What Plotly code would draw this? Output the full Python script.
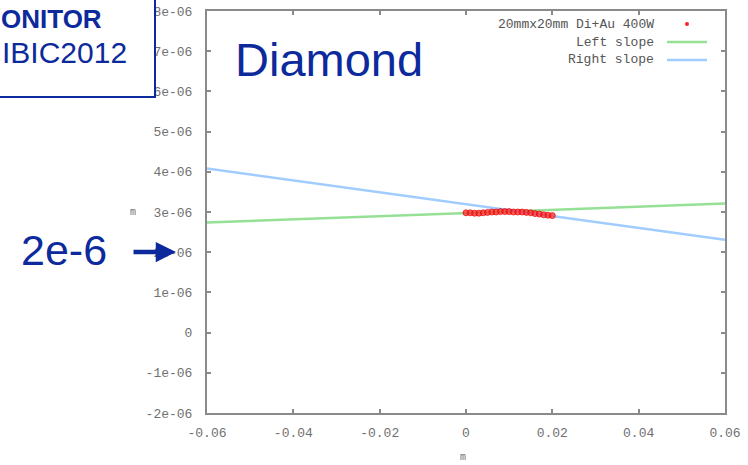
import plotly.graph_objects as go

# ---- data ----
data_x = [0.000, 0.001, 0.002, 0.003, 0.004, 0.005, 0.006, 0.007, 0.008, 0.009, 0.010,
          0.011, 0.012, 0.013, 0.014, 0.015, 0.016, 0.017, 0.018, 0.019, 0.020]
data_y = [2.98e-6, 2.98e-6, 2.97e-6, 2.97e-6, 2.98e-6, 2.99e-6, 3.00e-6, 3.00e-6, 3.01e-6, 3.01e-6, 3.01e-6,
          3.00e-6, 3.00e-6, 3.00e-6, 2.99e-6, 2.98e-6, 2.96e-6, 2.95e-6, 2.93e-6, 2.92e-6, 2.91e-6]
left_slope_x = [-0.06, 0.06]
left_slope_y = [2.74e-6, 3.21e-6]
right_slope_x = [-0.06, 0.06]
right_slope_y = [4.08e-6, 2.31e-6]

x_tick_vals = [-0.06, -0.04, -0.02, 0, 0.02, 0.04, 0.06]
x_tick_text = ["-0.06", "-0.04", "-0.02", "0", "0.02", "0.04", "0.06"]
y_tick_vals = [-2e-6, -1e-6, 0, 1e-6, 2e-6, 3e-6, 4e-6, 5e-6, 6e-6, 7e-6, 8e-6]
y_tick_text = ["-2e-06", "-1e-06", "0", "1e-06", "2e-06", "3e-06", "4e-06", "5e-06", "6e-06", "7e-06", "8e-06"]

legend_labels = ["20mmx20mm Di+Au 400W", "Left slope", "Right slope"]

# ---- layout geometry (pixels) ----
W, H = 748, 465
L, R, T, B = 207, 23, 11, 52
PW, PH = W - L - R, H - T - B

def px(x):
    return (x - L) / PW

def py(y):
    return (H - B - y) / PH

RED = "#ff2020"
GREEN = "#96e096"
BLUE = "#a0ccff"
NAVY = "#0d2a9c"
TICKFONT = dict(family="Liberation Mono, DejaVu Sans Mono, monospace", size=13, color="#707070")

fig = go.Figure()
fig.add_trace(go.Scatter(x=left_slope_x, y=left_slope_y, mode="lines",
                         line=dict(color=GREEN, width=2.5), name=legend_labels[1]))
fig.add_trace(go.Scatter(x=right_slope_x, y=right_slope_y, mode="lines",
                         line=dict(color=BLUE, width=2.5), name=legend_labels[2]))
fig.add_trace(go.Scatter(x=data_x, y=data_y, mode="markers",
                         marker=dict(color="rgba(255,30,30,0.7)", size=6,
                                     line=dict(color="rgba(230,0,0,0.7)", width=1)),
                         name=legend_labels[0]))

axis_common = dict(showgrid=False, zeroline=False, showline=True, linecolor="#8a8a8a",
                   linewidth=2, mirror="ticks", ticks="inside", ticklen=4,
                   tickcolor="#8a8a8a", tickwidth=1.5, tickfont=TICKFONT, automargin=False)

fig.update_xaxes(range=[-0.06, 0.06], tickvals=x_tick_vals, ticktext=x_tick_text,
                 ticklabelstandoff=6, **axis_common)
fig.update_yaxes(range=[-2e-6, 8e-6], tickvals=y_tick_vals, ticktext=y_tick_text,
                 ticklabelstandoff=10, **axis_common)

shapes = []
annotations = []

# white box with blue border (top-left overlay)
shapes.append(dict(type="rect", xref="paper", yref="paper", layer="above",
                   x0=px(-30), x1=px(155), y0=py(97), y1=py(-30),
                   fillcolor="white", line=dict(color=NAVY, width=2)))
# white patch behind "2e-6" label
shapes.append(dict(type="rect", xref="paper", yref="paper", layer="above",
                   x0=px(10), x1=px(151), y0=py(266), y1=py(236),
                   fillcolor="white", line=dict(width=0)))

# legend samples
shapes.append(dict(type="line", xref="paper", yref="paper", layer="above",
                   x0=px(667), x1=px(707), y0=py(42), y1=py(42),
                   line=dict(color=GREEN, width=2.5)))
shapes.append(dict(type="line", xref="paper", yref="paper", layer="above",
                   x0=px(667), x1=px(707), y0=py(60), y1=py(60),
                   line=dict(color=BLUE, width=2.5)))
shapes.append(dict(type="circle", xref="paper", yref="paper", layer="above",
                   x0=px(685), x1=px(689), y0=py(26), y1=py(22),
                   fillcolor=RED, line=dict(color=RED, width=0)))

LEGFONT = dict(family="Liberation Mono, DejaVu Sans Mono, monospace", size=13, color="#555555")
for lab, yy in zip(legend_labels, [24, 42, 60]):
    annotations.append(dict(text=lab, xref="paper", yref="paper", x=px(656), y=py(yy),
                            xanchor="right", yanchor="middle", showarrow=False, font=LEGFONT))

# axis labels
annotations.append(dict(text="m", xref="paper", yref="paper", x=px(133), y=py(212),
                        xanchor="center", yanchor="middle", showarrow=False,
                        font=dict(family="Liberation Mono, monospace", size=10, color="#707070")))
annotations.append(dict(text="m", xref="paper", yref="paper", x=px(463), y=py(457),
                        xanchor="center", yanchor="middle", showarrow=False,
                        font=dict(family="Liberation Mono, monospace", size=10, color="#707070")))

# overlay texts
annotations.append(dict(text="<b>ONITOR</b>", xref="paper", yref="paper", x=px(104), y=py(19),
                        xanchor="right", yanchor="middle", showarrow=False,
                        font=dict(family="Liberation Sans, Arial", size=26, color=NAVY)))
annotations.append(dict(text="IBIC2012", xref="paper", yref="paper", x=px(129), y=py(53),
                        xanchor="right", yanchor="middle", showarrow=False,
                        font=dict(family="Liberation Sans, Arial", size=30, color=NAVY)))
annotations.append(dict(text="Diamond", xref="paper", yref="paper", x=px(233), y=py(60),
                        xanchor="left", yanchor="middle", showarrow=False,
                        font=dict(family="Liberation Sans, Arial", size=47, color=NAVY)))
annotations.append(dict(text="2e-6", xref="paper", yref="paper", x=px(64), y=py(250),
                        xanchor="center", yanchor="middle", showarrow=False,
                        font=dict(family="Liberation Sans, Arial", size=43, color=NAVY)))
# arrow
annotations.append(dict(text="", xref="paper", yref="paper", axref="pixel", ayref="pixel",
                        x=px(176), y=py(252), ax=-44, ay=0, showarrow=True,
                        arrowhead=2, arrowsize=0.9, arrowwidth=4.5, arrowcolor=NAVY))

fig.update_layout(width=W, height=H, margin=dict(l=L, r=R, t=T, b=B, autoexpand=False),
                  paper_bgcolor="white", plot_bgcolor="white", showlegend=False,
                  shapes=shapes, annotations=annotations)

fig.write_html("out.html", config={"displayModeBar": False},
               post_script="document.body.style.margin='0';document.body.style.overflow='hidden';")
